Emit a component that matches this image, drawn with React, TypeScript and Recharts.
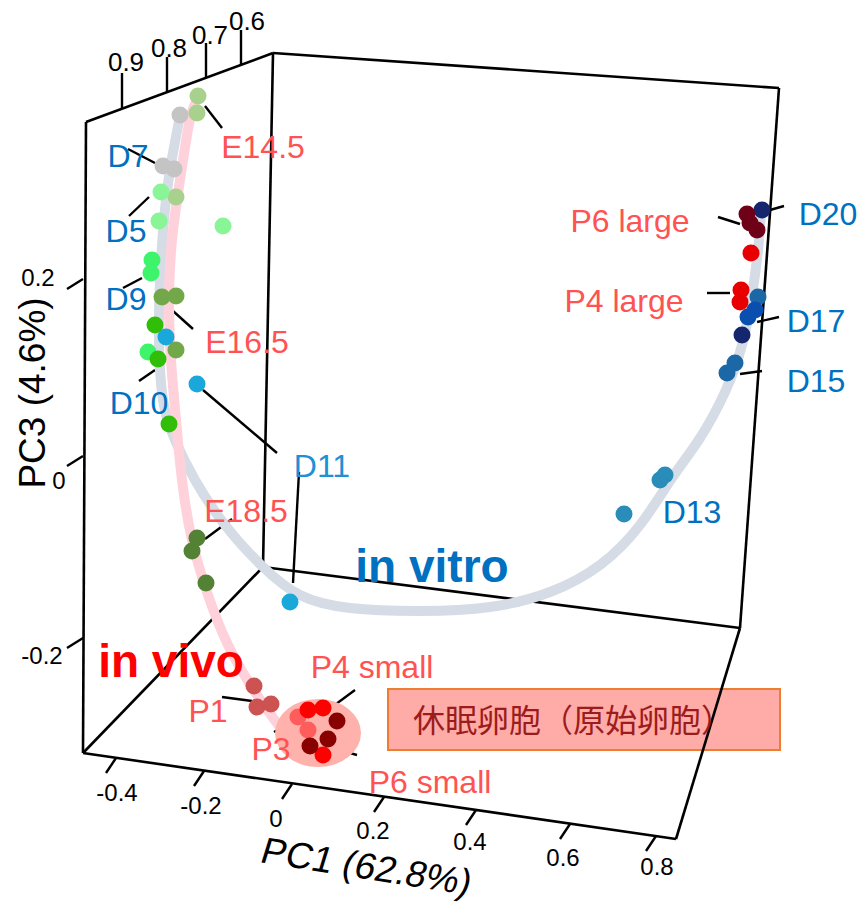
import React from 'react';
import { ScatterChart, Scatter, XAxis, YAxis, ReferenceLine, ReferenceArea } from 'recharts';

const W = 862;
const H = 907;
const FONT = '"Liberation Sans", Arial, Helvetica, sans-serif';

// ---- projected sample coordinates (view plane of the 3D PCA box) ----
const D7 = [{ x: 180, y: 115 }, { x: 163, y: 166 }, { x: 174, y: 169 }];
const E14_5 = [{ x: 198, y: 96 }, { x: 197, y: 113 }, { x: 176, y: 197 }];
const D5 = [{ x: 161, y: 192 }, { x: 159, y: 221 }, { x: 223, y: 226 }];
const D9 = [{ x: 152, y: 260 }, { x: 151, y: 273 }, { x: 148, y: 352 }];
const E16_5 = [{ x: 162, y: 297 }, { x: 176, y: 296 }, { x: 176, y: 350 }];
const D10 = [{ x: 155, y: 325 }, { x: 158, y: 359 }, { x: 169, y: 424 }];
const D11 = [{ x: 166, y: 337 }, { x: 197, y: 384 }, { x: 290, y: 602 }];
const E18_5 = [{ x: 197, y: 538 }, { x: 192, y: 551 }, { x: 206, y: 583 }];
const P1 = [{ x: 254, y: 686 }, { x: 257, y: 707 }, { x: 271, y: 704 }];
const P3 = [{ x: 298, y: 717 }, { x: 308, y: 730 }];
const P4small = [{ x: 308, y: 710 }, { x: 323, y: 708 }, { x: 323, y: 755 }];
const P6small = [{ x: 337, y: 721 }, { x: 310, y: 746 }, { x: 328, y: 739 }];
const D13 = [{ x: 665, y: 475 }, { x: 660, y: 480 }, { x: 624, y: 514 }];
const D15 = [{ x: 758, y: 297 }, { x: 735, y: 363 }, { x: 727, y: 373 }];
const D17 = [{ x: 755, y: 310 }, { x: 748, y: 317 }];
const D20 = [{ x: 762, y: 210 }, { x: 742, y: 335 }];
const P4large = [{ x: 751, y: 253 }, { x: 741, y: 290 }, { x: 740, y: 302 }];
const P6large = [{ x: 747, y: 214 }, { x: 750, y: 223 }, { x: 757, y: 230 }];

// small-oocyte cluster (dormant / primordial follicles)
const dormantCluster = [{ x: 318, y: 733 }];

// trajectory curves
const inVivoPath = [
  { x: 195, y: 104 }, { x: 189, y: 124 }, { x: 180, y: 180 }, { x: 172, y: 240 }, { x: 169, y: 300 },
  { x: 171, y: 360 }, { x: 176, y: 420 }, { x: 182, y: 480 }, { x: 192, y: 540 }, { x: 208, y: 595 },
  { x: 228, y: 645 }, { x: 255, y: 692 }, { x: 282, y: 730 },
];
const inVitroPath = [
  { x: 180, y: 116 }, { x: 170, y: 170 }, { x: 164, y: 220 }, { x: 160, y: 280 }, { x: 159, y: 340 },
  { x: 163, y: 400 }, { x: 175, y: 440 }, { x: 195, y: 480 }, { x: 225, y: 525 }, { x: 262, y: 566 },
  { x: 300, y: 595 }, { x: 350, y: 608 }, { x: 420, y: 611 }, { x: 490, y: 607 }, { x: 550, y: 592 },
  { x: 600, y: 565 }, { x: 640, y: 525 }, { x: 672, y: 478 }, { x: 700, y: 438 }, { x: 725, y: 392 },
  { x: 742, y: 345 }, { x: 752, y: 295 }, { x: 758, y: 250 }, { x: 761, y: 212 },
];

// ---- box edges ----
const boxEdges = [
  [{ x: 86, y: 122 }, { x: 83, y: 753 }],
  [{ x: 86, y: 122 }, { x: 273, y: 53 }],
  [{ x: 273, y: 53 }, { x: 263, y: 567 }],
  [{ x: 273, y: 53 }, { x: 779, y: 88 }],
  [{ x: 779, y: 88 }, { x: 740, y: 628 }],
  [{ x: 263, y: 567 }, { x: 740, y: 628 }],
  [{ x: 83, y: 753 }, { x: 263, y: 567 }],
  [{ x: 83, y: 753 }, { x: 676, y: 839 }],
  [{ x: 676, y: 839 }, { x: 740, y: 628 }],
];

// ---- tick labels ----
const pc2TickLabels = ['0.9', '0.8', '0.7', '0.6'];
const pc2TickPos = [{ x: 122, y: 108 }, { x: 167, y: 92 }, { x: 206, y: 78 }, { x: 241, y: 65 }];
const pc2LabelPos = [{ x: 126, y: 62 }, { x: 169, y: 48 }, { x: 210, y: 35 }, { x: 247, y: 21 }];

const pc3TickLabels = ['0.2', '0', '-0.2'];
const pc3TickPos = [{ x: 83, y: 279 }, { x: 83, y: 456 }, { x: 83, y: 638 }];
const pc3LabelPos = [{ x: 38, y: 277 }, { x: 59, y: 480 }, { x: 42, y: 655 }];

const pc1TickLabels = ['-0.4', '-0.2', '0', '0.2', '0.4', '0.6', '0.8'];
const pc1TickPos = [
  { x: 116, y: 758 }, { x: 204, y: 771 }, { x: 292, y: 784 }, { x: 384, y: 797 },
  { x: 476, y: 810 }, { x: 570, y: 824 }, { x: 656, y: 836 },
];
const pc1LabelPos = [
  { x: 117, y: 792 }, { x: 201, y: 805 }, { x: 276, y: 818 }, { x: 373, y: 830 },
  { x: 470, y: 841 }, { x: 563, y: 857 }, { x: 657, y: 866 },
];

// ---- sample labels and leaders ----
const RED = '#FF5252';
const BLUE = '#0070C0';
const sampleLabels = [
  { x: 263, y: 158, t: 'E14.5', c: RED },
  { x: 128, y: 167, t: 'D7', c: BLUE },
  { x: 126, y: 242, t: 'D5', c: BLUE },
  { x: 126, y: 310, t: 'D9', c: BLUE },
  { x: 247, y: 353, t: 'E16.5', c: RED },
  { x: 139, y: 414, t: 'D10', c: BLUE },
  { x: 322, y: 477, t: 'D11', c: '#1E90D6' },
  { x: 246, y: 522, t: 'E18.5', c: RED },
  { x: 208, y: 722, t: 'P1', c: RED },
  { x: 271, y: 760, t: 'P3', c: RED },
  { x: 372, y: 678, t: 'P4 small', c: RED },
  { x: 430, y: 793, t: 'P6 small', c: RED },
  { x: 630, y: 232, t: 'P6 large', c: RED },
  { x: 624, y: 312, t: 'P4 large', c: RED },
  { x: 828, y: 225, t: 'D20', c: BLUE },
  { x: 816, y: 332, t: 'D17', c: BLUE },
  { x: 816, y: 392, t: 'D15', c: BLUE },
  { x: 692, y: 523, t: 'D13', c: BLUE },
];
const leaders = [
  [{ x: 205, y: 106 }, { x: 222, y: 128 }],
  [{ x: 128, y: 149 }, { x: 155, y: 163 }],
  [{ x: 149, y: 197 }, { x: 129, y: 216 }],
  [{ x: 142, y: 278 }, { x: 123, y: 288 }],
  [{ x: 173, y: 311 }, { x: 193, y: 329 }],
  [{ x: 155, y: 370 }, { x: 139, y: 381 }],
  [{ x: 203, y: 390 }, { x: 277, y: 453 }],
  [{ x: 299, y: 472 }, { x: 293, y: 583 }],
  [{ x: 232, y: 519 }, { x: 205, y: 539 }],
  [{ x: 222, y: 697 }, { x: 252, y: 701 }],
  [{ x: 274, y: 732 }, { x: 292, y: 722 }],
  [{ x: 332, y: 707 }, { x: 355, y: 690 }],
  [{ x: 332, y: 748 }, { x: 357, y: 755 }],
  [{ x: 718, y: 217 }, { x: 740, y: 224 }],
  [{ x: 707, y: 293 }, { x: 730, y: 293 }],
  [{ x: 770, y: 210 }, { x: 784, y: 206 }],
  [{ x: 757, y: 322 }, { x: 779, y: 317 }],
  [{ x: 740, y: 374 }, { x: 762, y: 371 }],
];

const groupLabels = [
  { x: 432, y: 582, t: 'in vitro', c: '#0070C0' },
  { x: 171, y: 677, t: 'in vivo', c: '#FF0000' },
];
const axisTitles = [
  { x: 367, y: 866, t: 'PC1 (62.8%)', rot: 9 },
  { x: 32, y: 393, t: 'PC3 (4.6%)', rot: -90 },
];
const legendText = [{ x: 573, y: 718, t: '休眠卵胞（原始卵胞）' }];

const groups = [
  { name: 'D7', color: '#C4C4C4', pts: D7 },
  { name: 'E14.5', color: '#A9D18E', pts: E14_5 },
  { name: 'D5', color: '#8AF596', pts: D5 },
  { name: 'D9', color: '#3EF46A', pts: D9 },
  { name: 'E16.5', color: '#72A84A', pts: E16_5 },
  { name: 'D10', color: '#30BE08', pts: D10 },
  { name: 'D11', color: '#1AA8DA', pts: D11 },
  { name: 'E18.5', color: '#548235', pts: E18_5 },
  { name: 'P1', color: '#CD5252', pts: P1 },
  { name: 'P3', color: '#FF5C5C', pts: P3 },
  { name: 'P4 small', color: '#FF0000', pts: P4small },
  { name: 'P6 small', color: '#880000', pts: P6small },
  { name: 'D13', color: '#2A8DB9', pts: D13 },
  { name: 'D15', color: '#1C67A6', pts: D15 },
  { name: 'D17', color: '#0A4EB0', pts: D17 },
  { name: 'D20', color: '#13266E', pts: D20 },
  { name: 'P4 large', color: '#E80000', pts: P4large },
  { name: 'P6 large', color: '#6E0018', pts: P6large },
];

const dot = (r: number) => (p: any) => <circle cx={p.cx} cy={p.cy} r={r} fill={p.fill} />;
const none = () => <g />;

const textShape = (size: number, weight: string, anchor: string, baseline?: string) => (p: any) => (
  <text
    x={p.cx}
    y={p.cy}
    fill={p.payload.c || '#000'}
    fontSize={size}
    fontWeight={weight}
    fontFamily={FONT}
    textAnchor={anchor}
    dominantBaseline={baseline}
  >
    {p.payload.t}
  </text>
);

const rotatedText = (p: any) => (
  <text
    transform={`translate(${p.cx},${p.cy}) rotate(${p.payload.rot})${p.payload.rot > 0 ? ' skewX(-8)' : ''}`}
    x={0}
    y={0}
    fill="#000"
    fontSize={37}
    fontFamily={FONT}
    textAnchor="middle"
    dominantBaseline="central"
  >
    {p.payload.t}
  </text>
);

const legendShape = (p: any) => (
  <text
    x={p.cx}
    y={p.cy}
    fill="#9C1C1C"
    fontSize={32}
    fontFamily='"Noto Sans CJK JP", "Noto Sans CJK SC", sans-serif'
    textAnchor="middle"
    dominantBaseline="central"
  >
    {p.payload.t}
  </text>
);

const tickLabelData = (labels: string[], pos: { x: number; y: number }[]) =>
  labels.map((t, i) => ({ x: pos[i].x, y: pos[i].y, t, c: '#000' }));

export default function App() {
  const tickSegs: any[] = [];
  pc2TickPos.forEach((p) => tickSegs.push([p, { x: p.x, y: p.y - 35 }]));
  pc3TickPos.forEach((p) => tickSegs.push([p, { x: p.x - 16, y: p.y + 10 }]));
  pc1TickPos.forEach((p) => tickSegs.push([p, { x: p.x - 10, y: p.y + 15 }]));

  return (
    <div style={{ position: 'absolute', left: 0, top: 0, width: W, height: H, background: '#fff' }}>
      <ScatterChart width={W} height={H} margin={{ top: 0, right: 0, bottom: 0, left: 0 }}>
        <XAxis type="number" dataKey="x" domain={[0, W]} hide allowDataOverflow />
        <YAxis type="number" dataKey="y" domain={[0, H]} reversed hide allowDataOverflow />

        <ReferenceArea x1={388} x2={780} y1={689} y2={750} fill="#FFABA8" fillOpacity={1} stroke="#ED7D31" strokeWidth={2} />

        <Scatter data={inVitroPath} line={{ stroke: '#D5DCE6', strokeWidth: 10, strokeLinecap: 'round' }} lineJointType="natural" shape={none} isAnimationActive={false} />
        <Scatter data={inVivoPath} line={{ stroke: '#FFD1DA', strokeWidth: 10, strokeLinecap: 'round' }} lineJointType="natural" shape={none} isAnimationActive={false} />

        {boxEdges.map((s, i) => (
          <ReferenceLine key={'b' + i} segment={s} stroke="#000" strokeWidth={2.6} />
        ))}
        {tickSegs.map((s, i) => (
          <ReferenceLine key={'t' + i} segment={s} stroke="#000" strokeWidth={2.4} />
        ))}
        {leaders.map((s, i) => (
          <ReferenceLine key={'l' + i} segment={s} stroke="#000" strokeWidth={2.4} />
        ))}

        <Scatter data={dormantCluster} fill="#FFB1AB" shape={(p: any) => <ellipse cx={p.cx} cy={p.cy} rx={43} ry={34} fill="#FFB1AB" />} isAnimationActive={false} />

        {groups.map((g) => (
          <Scatter key={g.name} name={g.name} data={g.pts} fill={g.color} shape={dot(8.5)} isAnimationActive={false} />
        ))}

        <Scatter data={sampleLabels} shape={textShape(32, 'normal', 'middle')} isAnimationActive={false} />
        <Scatter data={groupLabels} shape={textShape(46, 'bold', 'middle')} isAnimationActive={false} />
        <Scatter data={tickLabelData(pc2TickLabels, pc2LabelPos)} shape={textShape(26, 'normal', 'middle', 'central')} isAnimationActive={false} />
        <Scatter data={tickLabelData(pc3TickLabels, pc3LabelPos)} shape={textShape(24, 'normal', 'middle', 'central')} isAnimationActive={false} />
        <Scatter data={tickLabelData(pc1TickLabels, pc1LabelPos)} shape={textShape(24, 'normal', 'middle', 'central')} isAnimationActive={false} />
        <Scatter data={axisTitles} shape={rotatedText} isAnimationActive={false} />
        <Scatter data={legendText} shape={legendShape} isAnimationActive={false} />
      </ScatterChart>
    </div>
  );
}
